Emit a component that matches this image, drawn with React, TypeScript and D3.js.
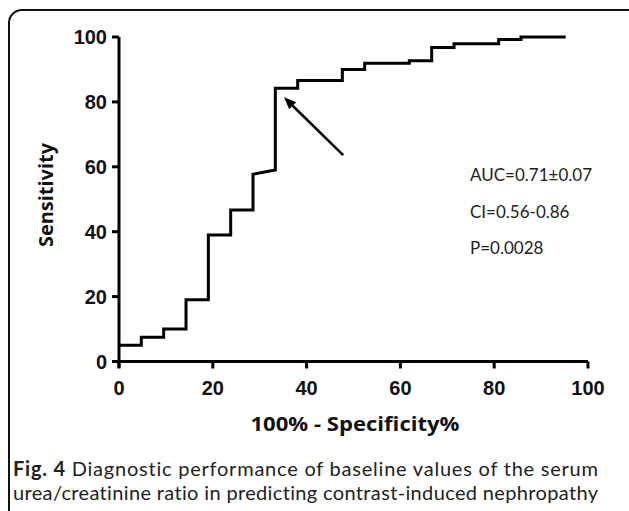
import React from "react";
import * as d3 from "d3";

const fpr = [0, 4.76, 4.76, 9.52, 9.52, 14.29, 14.29, 19.05, 19.05, 23.81, 23.81, 28.57, 28.57, 33.33, 33.33, 38.1, 38.1, 47.62, 47.62, 52.38, 52.38, 61.9, 61.9, 66.67, 66.67, 71.43, 71.43, 80.95, 80.95, 85.71, 85.71, 95.24];
const sens = [5, 5, 7.5, 7.5, 10, 10, 19, 19, 39, 39, 46.7, 46.7, 57.7, 59, 84.2, 84.2, 86.6, 86.6, 90, 90, 91.9, 91.9, 92.7, 92.7, 96.8, 96.8, 97.9, 97.9, 99.2, 99.2, 100, 100];
const xTicks = [0, 20, 40, 60, 80, 100];
const yTicks = [0, 20, 40, 60, 80, 100];
const annotations = ["AUC=0.71±0.07", "CI=0.56-0.86", "P=0.0028"];
const arrowFrom = [47.8, 63.6];
const arrowTo = [35.2, 81.4];
const xTitle = "100% - Specificity%";
const yTitle = "Sensitivity";
const captionBold = "Fig. 4";
const captionLine1 = " Diagnostic performance of baseline values of the serum";
const captionLine2 = "urea/creatinine ratio in predicting contrast-induced nephropathy";

export default function App() {
  const W = 629, H = 511;
  const x = d3.scaleLinear().domain([0, 100]).range([119, 588]);
  const y = d3.scaleLinear().domain([0, 100]).range([361.5, 37]);
  const pts: [number, number][] = fpr.map((f, i) => [f, sens[i]]);
  const line = d3.line<[number, number]>().x(d => x(d[0])).y(d => y(d[1]));
  const tickFont = "'Liberation Sans', Arial, sans-serif";
  const humanist = "Lato, 'Open Sans', sans-serif";
  const titleFont = "'Open Sans', Lato, sans-serif";
  const ax0 = x(0), ay0 = y(0);
  const noLig = { fontVariantLigatures: "none" as const };
  return (
    <svg width={W} height={H} style={{ position: "absolute", left: 0, top: 0 }}>
      <rect x={0} y={0} width={W} height={H} fill="#fff" />
      <rect x={9} y={10} width={632} height={520} rx={13} ry={13} fill="none" stroke="#111" strokeWidth={2} />
      <line x1={ax0} x2={ax0} y1={y(100)} y2={ay0 + 6} stroke="#000" strokeWidth={3} />
      <line x1={ax0 - 7} x2={x(100)} y1={ay0} y2={ay0} stroke="#000" strokeWidth={3} />
      {yTicks.map(t => (
        <g key={"y" + t}>
          <line x1={ax0 - 7} x2={ax0} y1={y(t)} y2={y(t)} stroke="#000" strokeWidth={3} />
          <text x={ax0 - 12} y={y(t)} dy="0.36em" textAnchor="end" fontFamily={tickFont} fontWeight="bold" fontSize={20} fill="#111">{t}</text>
        </g>
      ))}
      {xTicks.map(t => (
        <g key={"x" + t}>
          <line x1={x(t)} x2={x(t)} y1={ay0} y2={ay0 + 7} stroke="#000" strokeWidth={3} />
          <text x={x(t)} y={395} textAnchor="middle" fontFamily={tickFont} fontWeight="bold" fontSize={20} fill="#111">{t}</text>
        </g>
      ))}
      <path d={line(pts) || ""} fill="none" stroke="#000" strokeWidth={3} strokeLinejoin="miter" />
      {(() => {
        const x1 = x(arrowFrom[0]), y1 = y(arrowFrom[1]);
        const x2 = x(arrowTo[0]), y2 = y(arrowTo[1]);
        const ang = Math.atan2(y2 - y1, x2 - x1);
        const L = 12, w = 5;
        const bx = x2 - L * Math.cos(ang), by = y2 - L * Math.sin(ang);
        const p1 = [bx + w * Math.sin(ang), by - w * Math.cos(ang)];
        const p2 = [bx - w * Math.sin(ang), by + w * Math.cos(ang)];
        return (
          <g>
            <line x1={x1} y1={y1} x2={bx} y2={by} stroke="#000" strokeWidth={2.5} />
            <polygon points={`${x2},${y2} ${p1[0]},${p1[1]} ${p2[0]},${p2[1]}`} fill="#000" />
          </g>
        );
      })()}
      {annotations.map((a, i) => (
        <text key={a} x={470} y={181 + i * 36.5} fontFamily={humanist} fontSize={17} fill="#222">{a}</text>
      ))}
      <text transform={`translate(53,195) rotate(-90)`} textAnchor="middle" fontFamily={titleFont} fontWeight="bold" fontSize={19} fill="#111" textLength={104} lengthAdjust="spacingAndGlyphs">{yTitle}</text>
      <text x={355} y={431} textAnchor="middle" fontFamily={titleFont} fontWeight="bold" fontSize={20} fill="#111" textLength={209} lengthAdjust="spacingAndGlyphs">{xTitle}</text>
      <text x={13} y={476} fontFamily={humanist} fontSize={20} fill="#222" textLength={585} lengthAdjust="spacing" style={noLig}>
        <tspan fontWeight="bold">{captionBold}</tspan>{captionLine1}
      </text>
      <text x={13} y={500} fontFamily={humanist} fontSize={20} fill="#222" textLength={585} lengthAdjust="spacing" style={noLig}>{captionLine2}</text>
    </svg>
  );
}
